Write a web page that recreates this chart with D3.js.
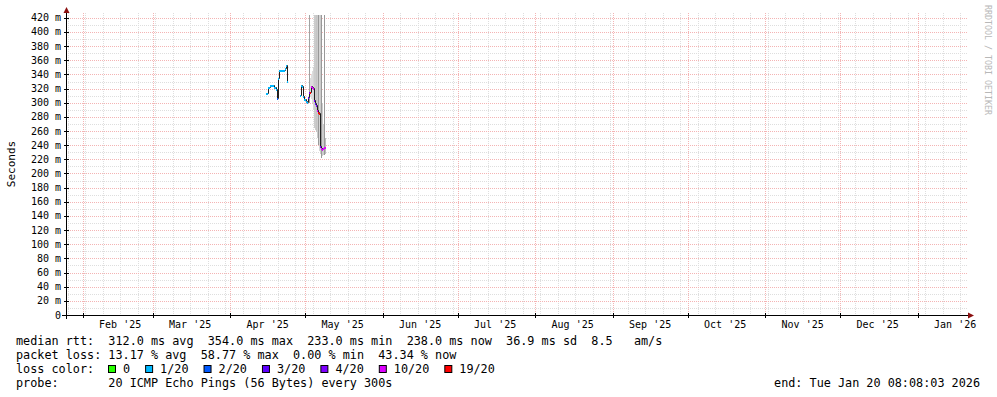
<!DOCTYPE html>
<html>
<head>
<meta charset="utf-8">
<script src="https://cdn.jsdelivr.net/npm/d3@7"></script>
<style>
  body { margin: 0; background: #fff; }
  svg { display: block; font-family: "DejaVu Sans Mono", monospace; }
  text { white-space: pre; }
</style>
</head>
<body>
<svg id="chart" width="997" height="397"></svg>
<script>
const parse = d3.timeParse("%Y-%m-%d %H:%M");

// graph window: last 360 days
const startTime = "2025-01-25 08:08";
const endTime = "2026-01-20 08:08";

// median rtt (ms), null = no data
const medianTimes = [
  "2025-04-15 08:08", "2025-04-16 03:20", "2025-04-16 22:32", "2025-04-17 17:44",
  "2025-04-18 12:56", "2025-04-19 08:08", "2025-04-19 17:44", "2025-04-20 03:20",
  "2025-04-20 12:56", "2025-04-21 08:08", "2025-04-22 03:20", "2025-04-22 22:32",
  "2025-04-23 08:08", "2025-04-23 17:44", "2025-04-24 03:20",
  "2025-04-28 22:32", "2025-04-29 08:08", "2025-04-29 17:44", "2025-04-30 03:20",
  "2025-04-30 12:56", "2025-05-01 08:08", "2025-05-01 17:44", "2025-05-02 03:20",
  "2025-05-02 12:56", "2025-05-02 22:32", "2025-05-03 08:08", "2025-05-03 17:44",
  "2025-05-04 03:20", "2025-05-04 12:56", "2025-05-04 22:32", "2025-05-05 08:08",
  "2025-05-05 17:44", "2025-05-06 03:20", "2025-05-06 12:56", "2025-05-06 22:32",
  "2025-05-07 08:08", "2025-05-07 17:44", "2025-05-08 03:20", "2025-05-08 12:56",
  "2025-05-08 22:32"
];
const medianValues = [
  314, 322, 325, 325,
  322, 319, 307, 335,
  346, 346, 346, 349,
  353, 331, null,
  311, 325, 324, 310,
  305, 302, 301, 308,
  315, 315, 324, 322,
  321, 304, 300, 297,
  290, 287, 285, 239,
  236, 235, 236, 237,
  238
];
// index into lossLabels
const lossLevels = [
  1, 1, 1, 1,
  1, 1, 2, 1,
  1, 1, 1, 1,
  1, 1, 0,
  1, 1, 1, 1,
  1, 1, 1, 3,
  4, 6, 5, 5,
  5, 4, 3, 4,
  5, 6, 6, 4,
  5, 5, 5, 5,
  5
];

// smoke: spread of individual pings
const smokeTimes = [
  "2025-05-02 12:56", "2025-05-02 22:32", "2025-05-03 08:08", "2025-05-03 17:44",
  "2025-05-04 03:20", "2025-05-04 12:56", "2025-05-04 22:32", "2025-05-05 08:08",
  "2025-05-05 17:44", "2025-05-06 03:20", "2025-05-06 12:56", "2025-05-06 22:32",
  "2025-05-07 08:08", "2025-05-07 17:44", "2025-05-08 03:20", "2025-05-08 12:56",
  "2025-05-08 22:32"
];
const smokeLow = [300, 308, 305, 300, 290, 265, 262, 258, 250, 240, 232, 228, 222, 225, 226, 226, 228];
const smokeHigh = [440, 335, 340, 345, 350, 440, 440, 440, 440, 440, 440, 440, 440, 300, 270, 440, 250];
const smokeDensity = [0.55, 0.2, 0.2, 0.2, 0.25, 0.3, 0.3, 0.35, 0.3, 0.6, 0.25, 0.3, 0.6, 0.3, 0.3, 0.6, 0.4];

const yTicks = [0, 20, 40, 60, 80, 100, 120, 140, 160, 180, 200, 220, 240, 260, 280, 300, 320, 340, 360, 380, 400, 420];
const yMinorTicks = [10, 30, 50, 70, 90, 110, 130, 150, 170, 190, 210, 230, 250, 270, 290, 310, 330, 350, 370, 390, 410];
const monthTicks = [
  "2025-02-01 00:00", "2025-03-01 00:00", "2025-04-01 00:00", "2025-05-01 00:00",
  "2025-06-01 00:00", "2025-07-01 00:00", "2025-08-01 00:00", "2025-09-01 00:00",
  "2025-10-01 00:00", "2025-11-01 00:00", "2025-12-01 00:00", "2026-01-01 00:00"
];

const lossLabels = ["0", "1/20", "2/20", "3/20", "4/20", "10/20", "19/20"];
const lossColors = ["#26ff00", "#00b8ff", "#0059ff", "#5e00ff", "#7e00ff", "#dd00ff", "#ff0000"];

const statLines = [
  "median rtt:  312.0 ms avg  354.0 ms max  233.0 ms min  238.0 ms now  36.9 ms sd  8.5   am/s",
  "packet loss: 13.17 % avg  58.77 % max  0.00 % min  43.34 % now"
];
const probeLine = "probe:       20 ICMP Echo Pings (56 Bytes) every 300s";
const endLine = "end: Tue Jan 20 08:08:03 2026";

const svg = d3.select("#chart");
const plotLeft = 66, plotRight = 966, plotTop = 15, plotBottom = 315;

const x = d3.scaleTime()
  .domain([parse(startTime), parse(endTime)])
  .range([plotLeft, plotRight]);
const y = d3.scaleLinear()
  .domain([0, 424])
  .range([plotBottom, plotTop]);

const minorColor = "#dedede";
const majorColor = "#f4b4b4";

// grid
const grid = svg.append("g").attr("shape-rendering", "crispEdges");
const weeks = d3.timeSunday.range(parse(startTime), parse(endTime));
grid.selectAll(".vminor")
  .data(weeks)
  .enter()
  .append("line")
  .attr("x1", (d) => Math.round(x(d)) + 0.5)
  .attr("x2", (d) => Math.round(x(d)) + 0.5)
  .attr("y1", plotTop - 2)
  .attr("y2", plotBottom)
  .attr("stroke", minorColor)
  .attr("stroke-dasharray", "1,1");
grid.selectAll(".hminor")
  .data(yMinorTicks)
  .enter()
  .append("line")
  .attr("x1", plotLeft)
  .attr("x2", plotRight + 2)
  .attr("y1", (d) => Math.round(y(d)) + 0.5)
  .attr("y2", (d) => Math.round(y(d)) + 0.5)
  .attr("stroke", minorColor)
  .attr("stroke-dasharray", "1,1");
grid.selectAll(".vmajor")
  .data(monthTicks.map(parse))
  .enter()
  .append("line")
  .attr("x1", (d) => Math.round(x(d)) + 0.5)
  .attr("x2", (d) => Math.round(x(d)) + 0.5)
  .attr("y1", plotTop - 2)
  .attr("y2", plotBottom)
  .attr("stroke", majorColor)
  .attr("stroke-dasharray", "1,1");
grid.selectAll(".hmajor")
  .data(yTicks.slice(1))
  .enter()
  .append("line")
  .attr("x1", plotLeft)
  .attr("x2", plotRight + 2)
  .attr("y1", (d) => Math.round(y(d)) + 0.5)
  .attr("y2", (d) => Math.round(y(d)) + 0.5)
  .attr("stroke", majorColor)
  .attr("stroke-dasharray", "1,1");

// smoke
const shade = d3.scaleLinear().domain([0, 1]).range(["#ffffff", "#555555"]);
const step = x(parse("2025-01-25 17:44")) - x(parse(startTime));
svg.append("g")
  .attr("shape-rendering", "crispEdges")
  .selectAll("rect")
  .data(smokeTimes.map((t, i) => ({ t: parse(t), lo: smokeLow[i], hi: smokeHigh[i], dens: smokeDensity[i] })))
  .enter()
  .append("rect")
  .attr("x", (d) => x(d.t))
  .attr("width", step)
  .attr("y", (d) => y(Math.min(d.hi, 424)))
  .attr("height", (d) => y(d.lo) - y(Math.min(d.hi, 424)))
  .attr("fill", (d) => shade(d.dens));

// median line
const points = medianTimes.map((t, i) => ({ t: parse(t), v: medianValues[i], loss: lossLevels[i] }));
svg.append("path")
  .datum(points)
  .attr("fill", "none")
  .attr("stroke", "#202020")
  .attr("stroke-width", 1)
  .attr("d", d3.line()
    .defined((d) => d.v !== null)
    .curve(d3.curveStepAfter)
    .x((d) => Math.round(x(d.t)) + 0.5)
    .y((d) => Math.round(y(d.v)) + 0.5));

// loss coloured band around the median
const bands = points.map((d, i) => {
  const next = points[i + 1];
  const w = next && next.v !== null ? x(next.t) - x(d.t) : step;
  return { ...d, w: Math.max(w, step) };
}).filter((d) => d.v !== null);
svg.append("g")
  .attr("shape-rendering", "crispEdges")
  .selectAll("rect")
  .data(bands)
  .enter()
  .append("rect")
  .attr("x", (d) => Math.round(x(d.t)))
  .attr("width", (d) => Math.round(d.w))
  .attr("y", (d) => Math.round(y(d.v)) - 0.5)
  .attr("height", 2)
  .attr("fill", (d) => lossColors[d.loss]);

// axes
const axisColor = "#000000";
const arrowColor = "#8b1010";
svg.append("line")
  .attr("x1", plotLeft + 0.5).attr("x2", plotLeft + 0.5)
  .attr("y1", plotBottom + 4).attr("y2", 12)
  .attr("stroke", axisColor).attr("shape-rendering", "crispEdges");
svg.append("line")
  .attr("x1", plotLeft - 4).attr("x2", plotRight + 3)
  .attr("y1", plotBottom + 0.5).attr("y2", plotBottom + 0.5)
  .attr("stroke", axisColor).attr("shape-rendering", "crispEdges");
svg.append("path")
  .attr("d", `M${plotLeft - 2.5},13 L${plotLeft + 0.5},7 L${plotLeft + 3.5},13 Z`)
  .attr("fill", arrowColor);
svg.append("path")
  .attr("d", `M${plotRight + 2},${plotBottom - 2.5} L${plotRight + 8},${plotBottom + 0.5} L${plotRight + 2},${plotBottom + 3.5} Z`)
  .attr("fill", arrowColor);

// ticks
svg.append("g")
  .selectAll("line")
  .data(yTicks)
  .enter()
  .append("line")
  .attr("x1", plotLeft - 2).attr("x2", plotLeft + 3)
  .attr("y1", (d) => Math.round(y(d)) + 0.5)
  .attr("y2", (d) => Math.round(y(d)) + 0.5)
  .attr("stroke", axisColor).attr("shape-rendering", "crispEdges");
svg.append("g")
  .selectAll("line")
  .data(monthTicks.map(parse))
  .enter()
  .append("line")
  .attr("x1", (d) => Math.round(x(d)) + 0.5)
  .attr("x2", (d) => Math.round(x(d)) + 0.5)
  .attr("y1", plotBottom - 2).attr("y2", plotBottom + 3)
  .attr("stroke", axisColor).attr("shape-rendering", "crispEdges");

// y labels
svg.append("g")
  .selectAll("text")
  .data(yTicks)
  .enter()
  .append("text")
  .attr("x", 61)
  .attr("y", (d) => y(d) + 3.5)
  .attr("text-anchor", "end")
  .attr("font-size", "10px")
  .attr("fill", "#000")
  .text((d) => (d === 0 ? "0" : `${d} m`));

// month labels, centred in the middle of each month
const monthFmt = d3.timeFormat("%b '%y");
svg.append("g")
  .selectAll("text")
  .data(monthTicks.map(parse))
  .enter()
  .append("text")
  .attr("x", (d) => x(d3.timeDay.offset(d, 15)))
  .attr("y", 328)
  .attr("text-anchor", "middle")
  .attr("font-size", "10px")
  .attr("fill", "#000")
  .text((d) => monthFmt(d));

// vertical label
svg.append("text")
  .attr("transform", "translate(15,164) rotate(-90)")
  .attr("text-anchor", "middle")
  .attr("font-size", "11px")
  .attr("fill", "#000")
  .text("Seconds");

// watermark
svg.append("text")
  .attr("transform", "translate(985,5) rotate(90)")
  .attr("font-size", "8.3px")
  .attr("fill", "#b8b8b8")
  .text("RRDTOOL / TOBI OETIKER");

// legend
const legend = svg.append("g").attr("font-size", "11.8px").attr("fill", "#000");
legend.selectAll(".stat")
  .data(statLines)
  .enter()
  .append("text")
  .attr("x", 16)
  .attr("y", (d, i) => 345 + i * 14)
  .text((d) => d);
legend.append("text").attr("x", 16).attr("y", 373).text("loss color:");
legend.append("text").attr("x", 16).attr("y", 387).text(probeLine);
legend.append("text").attr("x", 980).attr("y", 387).attr("text-anchor", "end").text(endLine);

let lx = 108;
lossLabels.forEach((lab, i) => {
  legend.append("rect")
    .attr("x", lx + 0.5).attr("y", 365.5)
    .attr("width", 7).attr("height", 7)
    .attr("fill", lossColors[i])
    .attr("stroke", "#000")
    .attr("stroke-width", 1);
  const t = legend.append("text").attr("x", lx + 15).attr("y", 373).text(lab);
  lx += 15 + t.node().getComputedTextLength() + 15;
});
</script>
</body>
</html>
